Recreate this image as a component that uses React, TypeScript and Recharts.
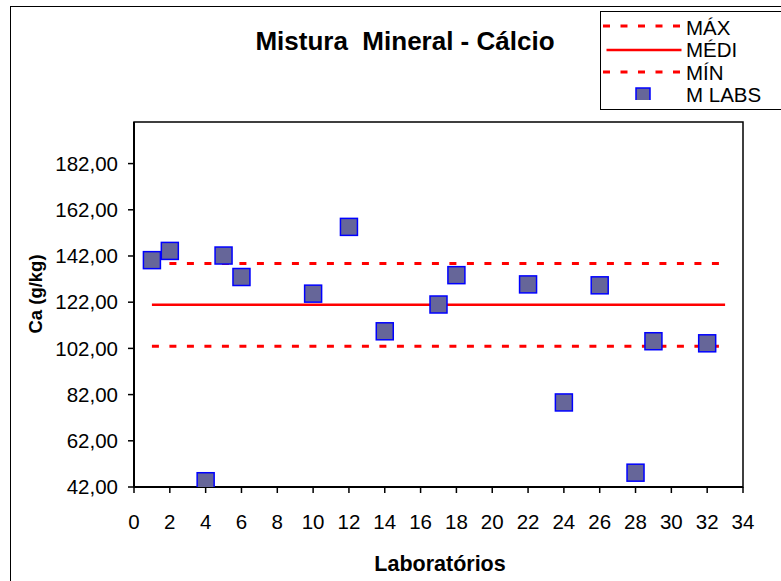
import React from "react";
import { ScatterChart, Scatter, XAxis, YAxis, ReferenceArea } from "recharts";

const labIds = [1, 2, 4, 5, 6, 10, 12, 14, 17, 18, 22, 24, 26, 28, 29, 32];
const calcium = [140.2, 144.2, 44.5, 142.2, 132.9, 125.7, 154.6, 109.4, 121.0, 133.7, 129.7, 78.6, 129.3, 48.2, 105.1, 104.2];
const limitRange = [1, 33];
const maxValue = 138.8;
const meanValue = 120.9;
const minValue = 102.9;
const xTicks = [0, 2, 4, 6, 8, 10, 12, 14, 16, 18, 20, 22, 24, 26, 28, 30, 32, 34];
const yTicks = [42, 62, 82, 102, 122, 142, 162, 182];

const labs = labIds.map((x, i) => ({ x, y: calcium[i] }));
const flat = (v: number) => limitRange.map((x) => ({ x, y: v }));

const FONT = '"Liberation Sans", Arial, sans-serif';
const RED = "#ff0000";
const DASH = "7 10.5";

const Square = (props: any) => {
  const { cx, cy } = props;
  if (cx == null || cy == null) return <g />;
  return <rect x={cx - 8.5} y={cy - 8.5} width={17} height={17} fill="#666699" stroke="#0000ff" strokeWidth={1.5} />;
};

const Nothing = () => <g />;

export default function App() {
  const tick = { fontSize: 20.5, fill: "#000", fontFamily: FONT };
  return (
    <div style={{ position: "absolute", left: 0, top: 0, width: 781, height: 581, overflow: "hidden", background: "#fff", fontFamily: FONT }}>
      <div style={{ position: "absolute", left: 10, top: 6, width: 800, height: 620, border: "1.5px solid #000", boxSizing: "border-box" }} />
      <div style={{ position: "absolute", left: 405, top: 28, transform: "translateX(-50%)", fontSize: 26, lineHeight: 1, fontWeight: "bold", whiteSpace: "pre" }}>
        Mistura  Mineral - Cálcio
      </div>
      <div style={{ position: "absolute", left: 440, top: 554, transform: "translateX(-50%)", fontSize: 21.5, lineHeight: 1, fontWeight: "bold", whiteSpace: "pre" }}>
        Laboratórios
      </div>
      <div style={{ position: "absolute", left: 36, top: 294, transform: "translate(-50%, -50%) rotate(-90deg)", fontSize: 18.5, lineHeight: 1, fontWeight: "bold", whiteSpace: "pre" }}>
        Ca (g/kg)
      </div>
      <div style={{ position: "absolute", left: 0, top: 0 }}>
        <ScatterChart width={781} height={581} margin={{ top: 122, right: 38, left: 0, bottom: 0 }}>
          <XAxis
            type="number"
            dataKey="x"
            domain={[0, 34]}
            ticks={xTicks}
            interval={0}
            height={94}
            tick={tick}
            tickSize={6}
            tickMargin={21}
            axisLine={{ stroke: "#000", strokeWidth: 2 }}
            tickLine={{ stroke: "#000", strokeWidth: 1.5 }}
            allowDataOverflow
          />
          <YAxis
            type="number"
            dataKey="y"
            domain={[42, 200]}
            ticks={yTicks}
            interval={0}
            width={134}
            tick={tick}
            tickSize={6}
            tickMargin={10}
            tickFormatter={(v: number) => v.toFixed(2).replace(".", ",")}
            axisLine={{ stroke: "#000", strokeWidth: 2 }}
            tickLine={{ stroke: "#000", strokeWidth: 1.5 }}
            allowDataOverflow
          />
          <ReferenceArea x1={0} x2={34} y1={42} y2={200} fill="none" stroke="#000" strokeWidth={1.5} />
          <Scatter data={flat(maxValue)} line={{ stroke: RED, strokeWidth: 3, strokeDasharray: DASH }} shape={Nothing} isAnimationActive={false} />
          <Scatter data={flat(meanValue)} line={{ stroke: RED, strokeWidth: 2.5 }} shape={Nothing} isAnimationActive={false} />
          <Scatter data={flat(minValue)} line={{ stroke: RED, strokeWidth: 3, strokeDasharray: DASH }} shape={Nothing} isAnimationActive={false} />
          <Scatter data={labs} shape={Square} isAnimationActive={false} />
        </ScatterChart>
      </div>
      <div style={{ position: "absolute", left: 600, top: 11, width: 200, height: 99, border: "1.5px solid #000", boxSizing: "border-box", background: "#fff" }}>
        <svg width={200} height={99} style={{ position: "absolute", left: -1.5, top: -11 }}>
          <line x1={3} x2={80} y1={25} y2={25} stroke={RED} strokeWidth={3} strokeDasharray={DASH} />
          <line x1={6.5} x2={81.5} y1={49} y2={49} stroke={RED} strokeWidth={2.5} />
          <line x1={3} x2={80} y1={71} y2={71} stroke={RED} strokeWidth={3} strokeDasharray={DASH} />
          <rect x={36} y={87} width={14} height={14} fill="#666699" stroke="#0000ff" strokeWidth={1.5} />
        </svg>
        {[
          ["MÁX", 34.3],
          ["MÉDI", 56.7],
          ["MÍN", 79.3],
          ["M LABS", 101.7],
        ].map(([t, b]) => (
          <div key={t as string} style={{ position: "absolute", left: 85, top: (b as number) - 11 - 17.5, fontSize: 20.5, lineHeight: 1, whiteSpace: "pre" }}>
            {t}
          </div>
        ))}
      </div>
    </div>
  );
}
